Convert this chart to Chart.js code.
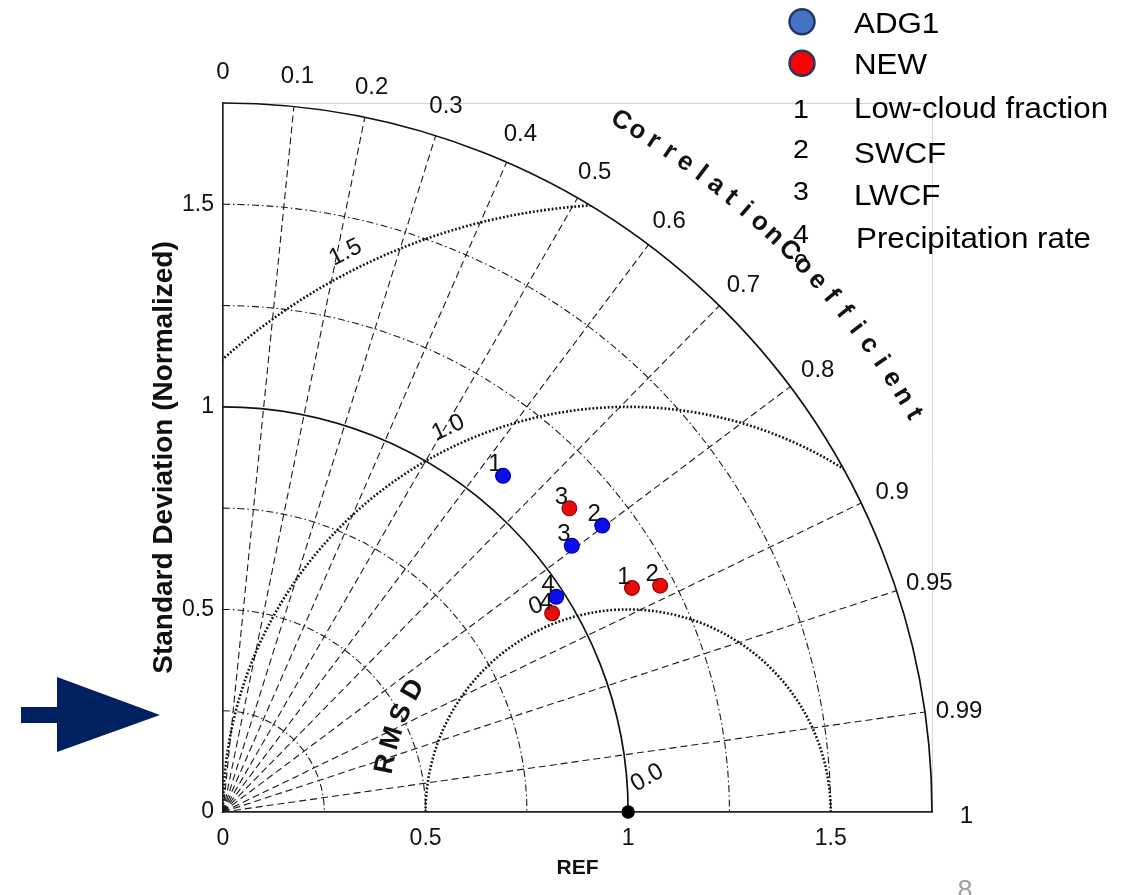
<!DOCTYPE html>
<html><head><meta charset="utf-8">
<script src="https://cdn.jsdelivr.net/npm/chart.js@4.4.1/dist/chart.umd.min.js"></script>
<style>html,body{margin:0;padding:0;background:#fff;}#wrap{position:relative;width:1130px;height:895px;}</style>
</head><body><div id="wrap"><canvas id="c" width="1130" height="895"></canvas></div>
<script>
// ---- data ----
const seriesNames = ['ADG1', 'NEW'];
const variableLabels = ['1', '2', '3', '4'];
const variableNames = ['Low-cloud fraction', 'SWCF', 'LWCF', 'Precipitation rate'];
const adg1Std  = [1.080, 1.173, 1.083, 0.979];
const adg1Corr = [0.640, 0.798, 0.795, 0.840];
const newStd   = [1.151, 1.215, 1.137, 0.949];
const newCorr  = [0.877, 0.888, 0.752, 0.856];
const refStd = 1.0;
const corrTicks = [0, 0.1, 0.2, 0.3, 0.4, 0.5, 0.6, 0.7, 0.8, 0.9, 0.95, 0.99, 1];
const corrTickLabels = ['0', '0.1', '0.2', '0.3', '0.4', '0.5', '0.6', '0.7', '0.8', '0.9', '0.95', '0.99', '1'];
const stdTicks = [0, 0.5, 1, 1.5];
const stdArcs = [0.25, 0.5, 0.75, 1.25, 1.5];
const rmsdArcs = [0.5, 1.0, 1.5];
const rmsdLabelValues = [0, 1.0, 1.5];
const rmsdLabelTexts = ['0.0', '1.0', '1.5'];
const maxStd = 1.75;

const FONT = "'Liberation Sans', Arial, Helvetica, sans-serif";
Chart.defaults.font.family = FONT;

const toPts = (s, c) => s.map((v, i) => ({ x: v * c[i], y: v * Math.sqrt(1 - c[i] * c[i]) }));

function arcText(ctx, word, cx, cy, R, a0, a1) {
  const n = word.length;
  for (let i = 0; i < n; i++) {
    const a = (a0 + (a1 - a0) * (n === 1 ? 0 : i / (n - 1))) * Math.PI / 180;
    const px = cx + R * Math.cos(a), py = cy - R * Math.sin(a);
    ctx.save(); ctx.translate(px, py); ctx.rotate(Math.PI / 2 - a);
    ctx.fillText(word[i], 0, 0); ctx.restore();
  }
}

const taylorPlugin = {
  id: 'taylor',
  beforeDatasetsDraw(chart) {
    const { ctx, scales: { x, y }, chartArea } = chart;
    const ox = x.getPixelForValue(0), oy = y.getPixelForValue(0);
    const k = x.getPixelForValue(1) - ox;
    const R = maxStd * k;
    const rx = x.getPixelForValue(refStd);
    ctx.save();
    // light frame
    ctx.strokeStyle = '#d4d4d4'; ctx.lineWidth = 1;
    ctx.beginPath();
    ctx.moveTo(ox, chartArea.top + 0.5); ctx.lineTo(chartArea.right + 0.5, chartArea.top + 0.5);
    ctx.lineTo(chartArea.right + 0.5, oy);
    ctx.stroke();
    // std dash-dot arcs
    ctx.strokeStyle = '#1a1a1a'; ctx.lineWidth = 1.1;
    ctx.setLineDash([7, 3, 1.5, 3]);
    stdArcs.forEach(r => { ctx.beginPath(); ctx.arc(ox, oy, r * k, -Math.PI / 2, 0); ctx.stroke(); });
    // correlation rays
    ctx.setLineDash([7, 4]);
    corrTicks.forEach(c => {
      if (c <= 0 || c >= 1) return;
      const a = Math.acos(c);
      ctx.beginPath(); ctx.moveTo(ox, oy); ctx.lineTo(ox + R * Math.cos(a), oy - R * Math.sin(a)); ctx.stroke();
    });
    // RMSD dotted arcs, clipped to the quarter disk
    ctx.save();
    ctx.beginPath(); ctx.moveTo(ox, oy); ctx.arc(ox, oy, R, -Math.PI / 2, 0); ctx.closePath(); ctx.clip();
    ctx.setLineDash([1.8, 2.0]); ctx.lineWidth = 2.6; ctx.strokeStyle = '#111';
    rmsdArcs.forEach(r => { ctx.beginPath(); ctx.arc(rx, oy, r * k, Math.PI, 2 * Math.PI); ctx.stroke(); });
    ctx.restore();
    // solid arcs
    ctx.setLineDash([]); ctx.strokeStyle = '#111'; ctx.lineWidth = 1.7;
    [refStd, maxStd].forEach(r => { ctx.beginPath(); ctx.arc(ox, oy, r * k, -Math.PI / 2, 0); ctx.stroke(); });
    // correlation tick labels
    ctx.fillStyle = '#111'; ctx.font = '24px ' + FONT; ctx.textAlign = 'center'; ctx.textBaseline = 'middle';
    corrTicks.forEach((c, i) => {
      const a = Math.acos(c), rr = 1.835 * k;
      ctx.fillText(corrTickLabels[i], ox + rr * Math.cos(a), oy - rr * Math.sin(a) + 4);
    });
    // RMSD labels
    ctx.font = '24px ' + FONT;
    rmsdLabelValues.forEach((v, i) => {
      let px, py, rot;
      if (v === 0) { px = rx + 0.047 * k; py = oy - 0.084 * k; rot = -30; }
      else {
        const a = (v > 1.2 ? 116.8 : 115.1) * Math.PI / 180, rr = (v + 0.047) * k;
        px = rx + rr * Math.cos(a); py = oy - rr * Math.sin(a); rot = 90 - a * 180 / Math.PI;
      }
      ctx.save(); ctx.translate(px, py); ctx.rotate(rot * Math.PI / 180); ctx.fillText(rmsdLabelTexts[i], 0, 0); ctx.restore();
    });
    // curved titles
    ctx.font = 'bold 26px ' + FONT;
    arcText(ctx, 'Correlation', ox, oy, 1.968 * k, 60.06, 46.29);
    arcText(ctx, 'Coefficient', ox, oy, 1.968 * k, 44.76, 29.96);
    ctx.font = 'bold 27px ' + FONT;
    arcText(ctx, 'RMSD', rx, oy, 0.61 * k, 168.8, 150.4);
    ctx.restore();
  },
  afterDatasetsDraw(chart) {
    const { ctx } = chart;
    ctx.save();
    ctx.fillStyle = '#111'; ctx.font = '24px ' + FONT; ctx.textAlign = 'center'; ctx.textBaseline = 'middle';
    [0, 1].forEach(di => {
      const meta = chart.getDatasetMeta(di);
      meta.data.forEach((el, j) => {
        if (di === 1 && j === 3) {
          ctx.save(); ctx.translate(el.x - 16, el.y - 7); ctx.rotate(-0.35); ctx.fillText('0', 0, 0); ctx.restore();
          ctx.fillText(variableLabels[j], el.x - 6, el.y - 10);
        } else {
          ctx.fillText(variableLabels[j], el.x - 8, el.y - 11);
        }
      });
    });
    ctx.restore();
  },
  afterDraw(chart) {
    const { ctx } = chart;
    ctx.save();
    // legend markers
    const markerFill = ['#4472C4', '#FF0000'];
    const markerY = [21.7, 63.3];
    const nameBase = [33, 74];
    seriesNames.forEach((n, i) => {
      ctx.beginPath(); ctx.arc(802, markerY[i], 12.5, 0, 2 * Math.PI);
      ctx.fillStyle = markerFill[i]; ctx.fill();
      ctx.lineWidth = 2.5; ctx.strokeStyle = '#1F3864'; ctx.stroke();
      ctx.save(); ctx.translate(854, nameBase[i]); ctx.scale(1.08, 1);
      ctx.fillStyle = '#000'; ctx.font = '29px ' + FONT; ctx.textAlign = 'left'; ctx.textBaseline = 'alphabetic';
      ctx.fillText(n, 0, 0); ctx.restore();
    });
    const numBase = [118, 158, 200, 243];
    const txtBase = [118, 163, 205, 248];
    variableNames.forEach((n, i) => {
      ctx.save(); ctx.translate(801, numBase[i]); ctx.scale(1.1, 1);
      ctx.fillStyle = '#000'; ctx.font = '26px ' + FONT; ctx.textAlign = 'center'; ctx.textBaseline = 'alphabetic';
      ctx.fillText(variableLabels[i], 0, 0); ctx.restore();
      ctx.save(); ctx.translate(i === 3 ? 856 : 854, txtBase[i]); ctx.scale(1.08, 1);
      ctx.fillStyle = '#000'; ctx.font = '29px ' + FONT; ctx.textAlign = 'left'; ctx.textBaseline = 'alphabetic';
      ctx.fillText(n, 0, 0); ctx.restore();
    });
    // partially hidden fifth legend glyph
    ctx.save(); ctx.beginPath(); ctx.rect(780, 240, 60, 22); ctx.clip();
    ctx.fillStyle = '#000'; ctx.font = '26px ' + FONT; ctx.textAlign = 'center'; ctx.textBaseline = 'alphabetic';
    ctx.fillText('0', 801, 272); ctx.restore();
    // arrow
    ctx.fillStyle = '#002060';
    ctx.fillRect(21, 707, 37, 16);
    ctx.beginPath(); ctx.moveTo(57, 677); ctx.lineTo(160, 715); ctx.lineTo(57, 752); ctx.closePath(); ctx.fill();
    // page number
    ctx.fillStyle = '#a0a0a0'; ctx.font = '27px ' + FONT; ctx.textAlign = 'center'; ctx.textBaseline = 'alphabetic';
    ctx.fillText('8', 965, 899);
    ctx.restore();
  }
};

new Chart(document.getElementById('c'), {
  type: 'scatter',
  data: {
    datasets: [
      { label: seriesNames[0], data: toPts(adg1Std, adg1Corr), backgroundColor: '#0c0cee', borderColor: '#0000a0', borderWidth: 1.2, pointRadius: 7.4, clip: false },
      { label: seriesNames[1], data: toPts(newStd, newCorr), backgroundColor: '#e80c0c', borderColor: '#990000', borderWidth: 1.2, pointRadius: 7.4, clip: false },
      { label: 'REF', data: [{ x: refStd, y: 0 }], backgroundColor: '#000', borderColor: '#000', borderWidth: 0, pointRadius: 6.7, clip: false }
    ]
  },
  options: {
    responsive: false, animation: false, events: [],
    layout: { padding: { left: 0, right: 1130 - 932, top: 103, bottom: 0 } },
    plugins: { legend: { display: false }, tooltip: { enabled: false } },
    scales: {
      x: {
        type: 'linear', min: 0, max: maxStd,
        afterBuildTicks: s => { s.ticks = stdTicks.map(v => ({ value: v })); },
        afterFit: s => { s.height = 895 - 812; },
        grid: { display: false, drawTicks: false },
        border: { display: true, color: '#222', width: 1.7 },
        ticks: { font: { size: 23 }, color: '#111', padding: 13, maxRotation: 0, autoSkip: false, callback: v => String(v) },
        title: { display: true, text: 'REF', color: '#111', font: { size: 21, weight: 'bold' }, padding: { top: 0, bottom: 14 } }
      },
      y: {
        type: 'linear', min: 0, max: maxStd,
        afterBuildTicks: s => { s.ticks = stdTicks.map(v => ({ value: v })); },
        afterFit: s => { s.width = 223; },
        grid: { display: false, drawTicks: false },
        border: { display: true, color: '#222', width: 1.7 },
        ticks: { font: { size: 23 }, color: '#111', padding: 9, autoSkip: false, callback: v => String(v) },
        title: { display: true, text: 'Standard Deviation (Normalized)', color: '#111', font: { size: 28, weight: 'bold' }, padding: { top: 147, bottom: 0 } }
      }
    }
  },
  plugins: [taylorPlugin]
});
</script></body></html>
